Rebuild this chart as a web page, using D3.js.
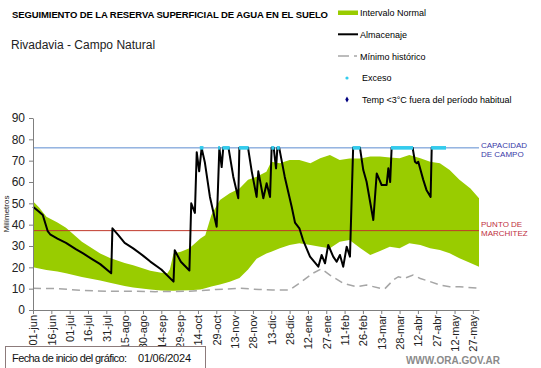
<!DOCTYPE html>
<html>
<head>
<meta charset="utf-8">
<style>
  body { margin: 0; background: #fff; }
  text { font-family: "Liberation Sans", Arial, sans-serif; }
</style>
</head>
<body>
<div id="my_dataviz"></div>
<script src="https://d3js.org/d3.v7.min.js"></script>
<script>

// days counted from 01/06/2024
var tickLabels = ["01-jun","16-jun","01-jul","16-jul","31-jul","15-ago","30-ago","14-sep","29-sep",
  "14-oct","29-oct","13-nov","28-nov","13-dic","28-dic","12-ene","27-ene","11-feb","26-feb",
  "13-mar","28-mar","12-abr","27-abr","12-may","27-may"];

// intervalo normal (band)
var bandDays  = [0, 5, 11, 20, 27, 40, 55, 63, 75, 82, 96, 105, 110, 112, 115, 121, 128, 137, 141, 146,
  153, 161, 169, 176, 183, 191, 195, 202, 210, 218, 227, 235, 243, 251, 259, 268, 276, 284,
  292, 300, 308, 317, 325, 333, 341, 349, 358, 365];
var bandUpper = [51, 48, 43.7, 41, 38.5, 32, 26.5, 24.4, 22, 21, 18.4, 17.5, 17.2, 19, 26.5, 27.3, 29, 33.5, 35, 44.5,
  51.6, 54.7, 57, 61, 62.5, 64.8, 69.5, 68.8, 70.3, 70.3, 68.8, 71.1, 72.7, 70.3, 71, 71, 71.9, 71.9,
  71.5, 71.1, 72.7, 71.1, 69.5, 68.8, 65.6, 61, 57, 52.4];
var bandLower = [20, 19.5, 18.8, 18, 17.2, 15.5, 13.8, 12.8, 11.3, 10.6, 9.6, 9.1, 9, 9, 9, 9.1, 9.2, 9.6, 10.2, 11,
  12, 13.3, 15, 19, 24, 26.5, 27.3, 29, 30.5, 31.3, 30.5, 29.7, 28.9, 32, 32.8, 28.9, 25.8, 27.7,
  29.7, 28.9, 31.3, 30.5, 28.9, 28.1, 26.6, 24.2, 22, 20.3];

// minimo historico
var minDays = [0, 20, 40, 60, 80, 100, 128, 150, 169, 185, 196, 210, 218, 229, 236, 243, 254, 265, 273, 284,
  288, 295, 299, 304, 311, 317, 325, 333, 341, 349, 365];
var minVals = [10.2, 10, 9.2, 8.8, 8.8, 8.6, 8.8, 9.6, 10.2, 9.6, 9.4, 9.4, 12.5, 17.2, 19.3, 16.4, 12.5, 10.9, 11.7, 10.2,
  10, 14.1, 15.6, 14.8, 16.4, 14.8, 13.3, 11.7, 10.9, 10.9, 10.2];

// almacenaje
var almDays = [0, 4, 8, 12, 14, 20, 27, 35, 41, 48, 55, 64, 65, 70, 75, 82, 90, 96, 105, 115, 116, 121, 128,
  129.5, 132.5, 134, 136, 138, 140.7, 144.8, 150.3, 152.5, 154.4, 155.7, 160, 163.9, 168, 168.9, 176,
  179, 183, 184.4, 188.5, 191.2, 194, 195.3, 197, 198.9, 200, 201.5, 206, 211.7, 214.4, 218, 221,
  226.7, 233.5, 236.2, 239, 241.6, 245.7, 248.5, 251.2, 253.9, 256.7, 259.4, 262, 267.6, 270.3,
  273, 278.5, 281.3, 285.3, 289.4, 290.8, 292.3, 293.5, 310.7, 312.6, 314, 315.3, 319.4, 322,
  325.4, 326.3, 338];
var almVals = [48.4, 46.5, 44.5, 37, 35.5, 33.5, 31.5, 28.5, 26.5, 24, 21.5, 17.2, 38.3, 35, 31.5, 28.9, 25.5, 22.7, 19, 13.3, 28, 22.6, 18.5,
  50, 45.5, 74, 65, 76, 69, 53, 39, 76, 67, 76, 76, 62.5, 52.4, 76, 76,
  65, 53, 65, 52.4, 59.4, 53, 76, 76, 66.4, 76, 76, 62.5, 48.4, 41, 38.3, 32.8,
  25, 20.3, 25.8, 21.9, 30.5, 25, 22.6, 25.8, 20.3, 29.7, 25, 76, 76, 65.6,
  60.1, 42.2, 64, 58.6, 58.6, 66.4, 60, 76, 76, 69.5, 68.8, 69.5, 61, 56.3,
  53, 76, 76];

// exceso periods [start, end]
var excesoStart = [136.5, 151.5, 155, 168.5, 195, 199.5, 261.5, 293, 325.8];
var excesoEnd   = [139.5, 153, 161, 176.5, 197.5, 202, 268, 311, 338];

var capacidad = 76;
var marchitez = 37.2;

var width = 541, height = 368;
var svg = d3.select("#my_dataviz")
  .append("svg")
    .attr("width", width)
    .attr("height", height);

var x = d3.scaleLinear().domain([0, 365]).range([33, 479]);
var y = d3.scaleLinear().domain([0, 90]).range([310, 118]);

// band
var band = bandDays.map(function(d, i) { return {d: d, lo: bandLower[i], hi: bandUpper[i]}; });
svg.append("path")
  .datum(band)
  .attr("fill", "#99cc00")
  .attr("d", d3.area()
    .x(function(d) { return x(d.d); })
    .y0(function(d) { return y(d.lo); })
    .y1(function(d) { return y(d.hi); }));

// reference lines
svg.append("line")
  .attr("x1", x(0)).attr("x2", x(365))
  .attr("y1", y(capacidad)).attr("y2", y(capacidad))
  .attr("stroke", "#5b8bd0").attr("stroke-width", 1);
svg.append("line")
  .attr("x1", x(0)).attr("x2", x(365))
  .attr("y1", y(marchitez)).attr("y2", y(marchitez))
  .attr("stroke", "#c0392b").attr("stroke-width", 1);

// minimo historico
svg.append("path")
  .datum(minDays.map(function(d, i) { return [d, minVals[i]]; }))
  .attr("fill", "none")
  .attr("stroke", "#a6a6a6")
  .attr("stroke-width", 1.5)
  .attr("stroke-dasharray", "8,5")
  .attr("d", d3.line().x(function(d) { return x(d[0]); }).y(function(d) { return y(d[1]); }));

// almacenaje
svg.append("path")
  .datum(almDays.map(function(d, i) { return [d, almVals[i]]; }))
  .attr("fill", "none")
  .attr("stroke", "#000")
  .attr("stroke-width", 2)
  .attr("stroke-linejoin", "round")
  .attr("d", d3.line().x(function(d) { return x(d[0]); }).y(function(d) { return y(d[1]); }));

// exceso
svg.selectAll("rect.exc")
  .data(excesoStart)
  .enter()
  .append("rect")
  .attr("class", "exc")
  .attr("x", function(d) { return x(d); })
  .attr("width", function(d, i) { return x(excesoEnd[i]) - x(d); })
  .attr("y", y(capacidad) - 1.8)
  .attr("height", 3.6)
  .attr("fill", "#33ccee");

// axes
var yAxis = svg.append("g")
  .attr("transform", "translate(" + x(0) + ",0)")
  .call(d3.axisLeft(y).tickValues(d3.range(0, 91, 10)).tickSize(4).tickSizeOuter(0));
yAxis.selectAll("text").style("font-size", "12px").attr("fill", "#222").attr("dx", "-1");
yAxis.selectAll("line, path").attr("stroke", "#7f7f7f");

var xAxis = svg.append("g")
  .attr("transform", "translate(0," + y(0) + ")")
  .call(d3.axisBottom(x).tickValues(d3.range(0, 361, 15))
    .tickFormat(function(d, i) { return tickLabels[i]; })
    .tickSize(4).tickSizeOuter(0));
xAxis.selectAll("line, path").attr("stroke", "#7f7f7f");
xAxis.selectAll("text")
  .style("font-size", "11px")
  .attr("fill", "#222")
  .attr("transform", "rotate(-90)")
  .attr("x", -5)
  .attr("y", 0)
  .attr("dy", "0.35em")
  .style("text-anchor", "end");

svg.append("text")
  .attr("transform", "translate(9,214)rotate(-90)")
  .attr("text-anchor", "middle")
  .style("font-size", "8px")
  .attr("fill", "#222")
  .text("Milímetros");

// titles
svg.append("text")
  .attr("x", 12).attr("y", 18)
  .attr("textLength", 316)
  .style("font-size", "9.5px").style("font-weight", "bold")
  .text("SEGUIMIENTO DE LA RESERVA SUPERFICIAL DE AGUA EN EL SUELO");
svg.append("text")
  .attr("x", 11).attr("y", 49)
  .style("font-size", "12px").attr("fill", "#222")
  .text("Rivadavia - Campo Natural");

// right labels
svg.append("text").attr("x", 481).attr("y", 148).style("font-size", "8px").attr("fill", "#3a3aa8").text("CAPACIDAD");
svg.append("text").attr("x", 481).attr("y", 157).style("font-size", "8px").attr("fill", "#3a3aa8").text("DE  CAMPO");
svg.append("text").attr("x", 481).attr("y", 227).style("font-size", "8px").attr("fill", "#c03040").text("PUNTO  DE");
svg.append("text").attr("x", 481).attr("y", 236).style("font-size", "8px").attr("fill", "#c03040").text("MARCHITEZ");

// legend
var lg = svg.append("g").style("font-size", "9px");
lg.append("rect").attr("x", 338).attr("y", 10.5).attr("width", 20).attr("height", 4.5).attr("fill", "#99cc00");
lg.append("text").attr("x", 360).attr("y", 16).text("Intervalo Normal");
lg.append("line").attr("x1", 338).attr("x2", 358).attr("y1", 34.3).attr("y2", 34.3).attr("stroke", "#000").attr("stroke-width", 2);
lg.append("text").attr("x", 360).attr("y", 37.5).text("Almacenaje");
lg.append("line").attr("x1", 338).attr("x2", 357).attr("y1", 56).attr("y2", 56)
  .attr("stroke", "#a6a6a6").attr("stroke-width", 1.5).attr("stroke-dasharray", "11,5");
lg.append("text").attr("x", 360).attr("y", 59.5).text("Mínimo histórico");
lg.append("circle").attr("cx", 347).attr("cy", 78).attr("r", 1.6).attr("fill", "#33ccee");
lg.append("text").attr("x", 362).attr("y", 81).text("Exceso");
lg.append("path").attr("d", d3.symbol().type(d3.symbolDiamond).size(10)).attr("transform", "translate(347,99.5)").attr("fill", "#000080");
lg.append("text").attr("x", 362).attr("y", 103).text("Temp <3°C fuera del período habitual");

// footer
svg.append("rect").attr("x", 5.5).attr("y", 346.5).attr("width", 200).attr("height", 22)
  .attr("fill", "#fff").attr("stroke", "#8c7b7b").attr("stroke-width", 1);
svg.append("text").attr("x", 12).attr("y", 362).attr("textLength", 115)
  .style("font-size", "11px").attr("fill", "#111").text("Fecha de inicio del gráfico:");
svg.append("text").attr("x", 138).attr("y", 362).attr("textLength", 53)
  .style("font-size", "11px").attr("fill", "#111").text("01/06/2024");
svg.append("text").attr("x", 500).attr("y", 364).attr("text-anchor", "end")
  .style("font-size", "10px").style("font-weight", "bold").attr("fill", "#8a8a8a").text("WWW.ORA.GOV.AR");

</script>
</body>
</html>
